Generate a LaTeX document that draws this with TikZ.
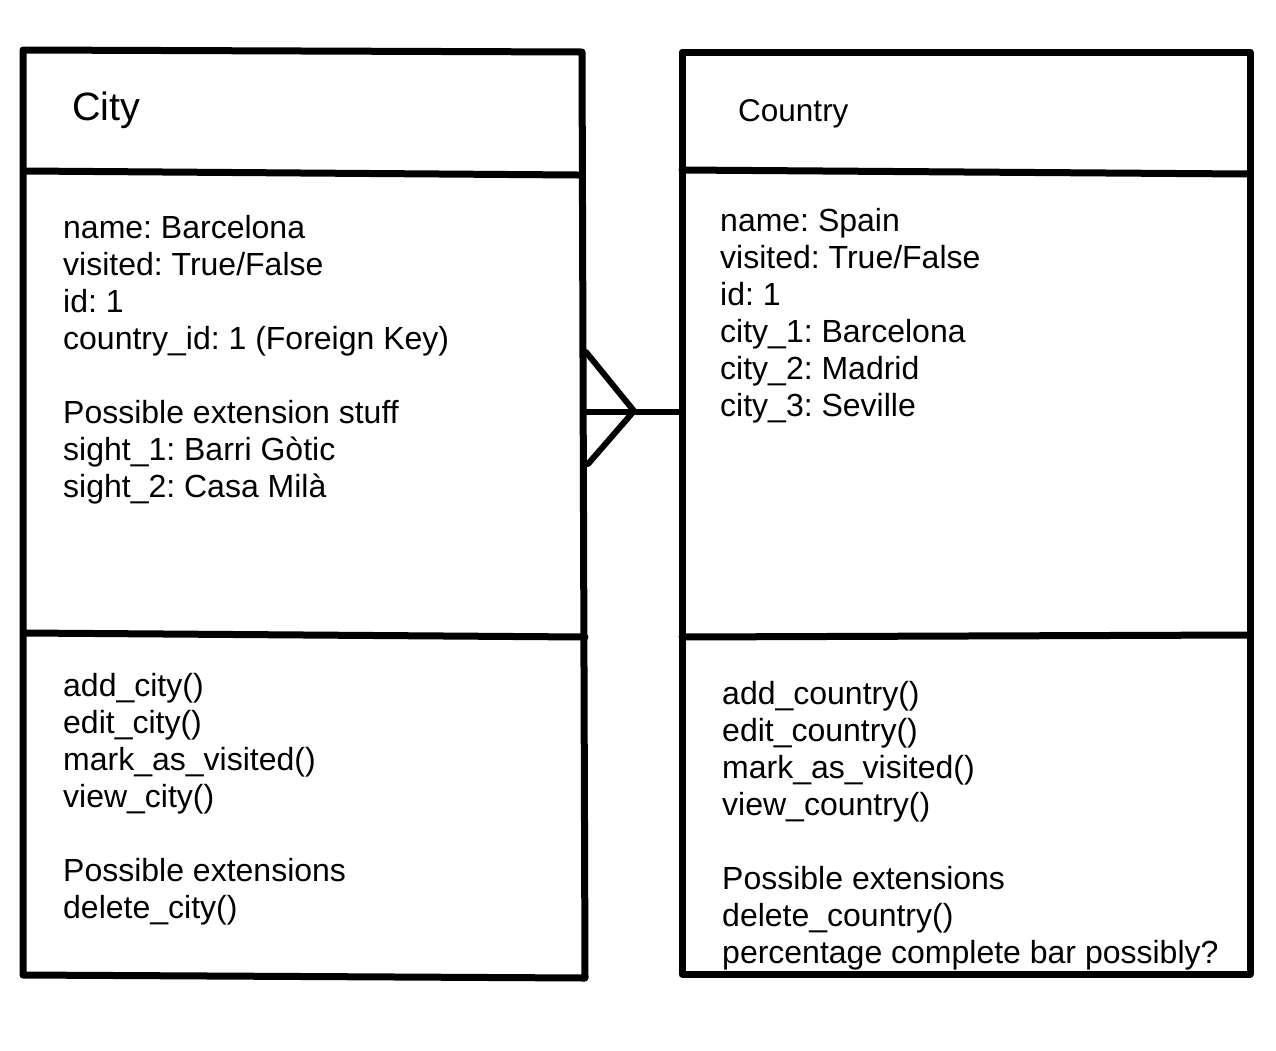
\documentclass[tikz,border=0pt]{standalone}
\usepackage{fontspec}
\setmainfont{Liberation Sans}
\newcommand{\us}{\textunderscore}
\frenchspacing
\begin{document}
\begin{tikzpicture}[x=1pt,y=-1pt,
  boxline/.style={line width=7pt,line cap=round,line join=round},
  relline/.style={line width=6pt,line cap=round,line join=round},
  txt/.style={anchor=base west,inner sep=0pt,align=left,font=\fontsize{32}{37}\selectfont},
  ttl/.style={anchor=base west,inner sep=0pt}]
\useasboundingbox (0,0) rectangle (1276,1050);
% City box
\coordinate (c-tl) at (23,50);
\coordinate (c-tr) at (582,52);
\coordinate (c-br) at (585,978);
\coordinate (c-bl) at (23,975);
\draw[boxline] (c-tl) -- (c-tr) -- (c-br) -- (c-bl) -- cycle;
\draw[boxline] (25,171) -- (578,175);
\draw[boxline] (25,633) -- (585,637);
% Country box
\coordinate (k-tl) at (682,52);
\coordinate (k-tr) at (1250,52);
\coordinate (k-br) at (1250,974);
\coordinate (k-bl) at (682,974);
\draw[boxline] (k-tl) -- (k-tr) -- (k-br) -- (k-bl) -- cycle;
\draw[boxline] (682,170) -- (1248,174);
\draw[boxline] (682,637) -- (1248,635);
% texts (base anchor = baseline of last line)
\node[ttl,font=\fontsize{39.5}{45}\selectfont] (cityT) at (72,120) {City};
\node[ttl,font=\fontsize{31.5}{37}\selectfont] (countryT) at (738,121) {Country};
\node[txt] (cityA) at (63,497.5) {name: Barcelona\\visited: True/False\\id: 1\\country\us id: 1 (Foreign Key)\\[37pt]Possible extension stuff\\sight\us 1: Barri Gòtic\\sight\us 2: Casa Milà};
\node[txt] (cityM) at (63,918) {add\us city()\\edit\us city()\\mark\us as\us visited()\\view\us city()\\[37pt]Possible extensions\\delete\us city()};
\node[txt] (countryA) at (720,416) {name: Spain\\visited: True/False\\id: 1\\city\us 1: Barcelona\\city\us 2: Madrid\\city\us 3: Seville};
\node[txt] (countryM) at (722,963) {add\us country()\\edit\us country()\\mark\us as\us visited()\\view\us country()\\[37pt]Possible extensions\\delete\us country()\\percentage complete bar possibly?};
% relation (crow's foot)
\coordinate (cf-top) at (586,352);
\coordinate (cf-tip) at (634,411);
\coordinate (cf-bot) at (588,464);
\coordinate (cf-a) at (586,412);
\coordinate (cf-b) at (682,412);
\draw[relline] (cf-top) -- (cf-tip) -- (cf-bot);
\draw[relline] (cf-a) -- (cf-b);
\end{tikzpicture}
\end{document}
